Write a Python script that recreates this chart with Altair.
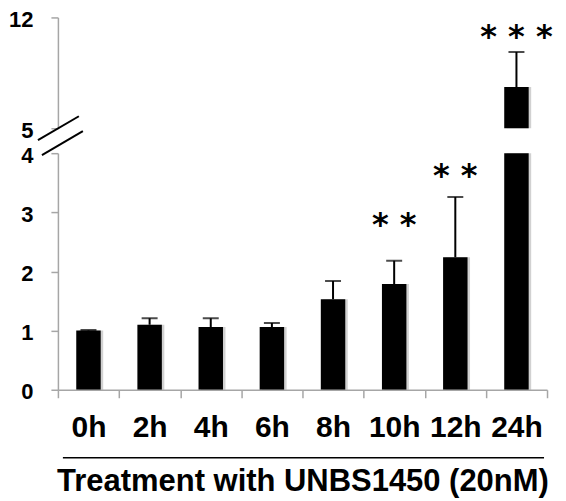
import altair as alt
import pandas as pd

categories = ["0h", "2h", "4h", "6h", "8h", "10h", "12h", "24h"]
means = [1.00, 1.10, 1.06, 1.06, 1.53, 1.79, 2.24, 7.61]
errors = [0.01, 0.11, 0.15, 0.07, 0.31, 0.39, 1.02, 2.21]
stars = ["", "", "", "", "", "* *", "* *", "* * *"]
star_y = [None, None, None, None, None, 2.79, 3.615, 10.78]

df = pd.DataFrame({
    "cat": categories,
    "mean": means,
    "top": [m + e for m, e in zip(means, errors)],
    "zero": [0.0] * len(categories),
    "star": stars,
    "star_y": star_y,
})

FONT = "Liberation Sans, Arial"
W = 490
H_UP = 111
H_LO = 237
GRAY = "#a6a6a6"


def panel(domain, yvalues, xaxis, star_filter):
    base = alt.Chart(df)
    x = alt.X("cat:N", sort=categories,
              scale=alt.Scale(paddingInner=0, paddingOuter=0), axis=xaxis, title="Treatment with UNBS1450 (20nM)")
    ysc = alt.Scale(domain=domain, nice=False, zero=False)
    yaxis = alt.Axis(values=yvalues, title=None, grid=False, labelFontSize=22, labelFontWeight="bold",
                     labelFont=FONT, labelColor="black", labelPadding=18, tickSize=7, labelOffset=2,
                     domainColor=GRAY, tickColor=GRAY, domainWidth=1.5, tickWidth=1.5, format="d")
    shadow = base.mark_bar(color="black", opacity=0.18, clip=True, xOffset=2.5,
                           width=alt.RelativeBandSize(0.4)).encode(
        x=x, y=alt.Y("mean:Q", scale=ysc, axis=yaxis), y2="zero:Q")
    bars = base.mark_bar(color="black", clip=True, width=alt.RelativeBandSize(0.4)).encode(
        x=x, y=alt.Y("mean:Q", scale=ysc, axis=yaxis), y2="zero:Q")
    err = base.mark_rule(color="black", strokeWidth=2, clip=True).encode(
        x=x, y=alt.Y("mean:Q", scale=ysc), y2="top:Q")
    cap = base.mark_tick(color="black", size=16, thickness=2, clip=True).encode(
        x=x, y=alt.Y("top:Q", scale=ysc))
    txt = base.transform_filter(star_filter).mark_text(
        font="DejaVu Sans", fontSize=32, fontWeight="bold", color="black", baseline="middle").encode(
        x=x, y=alt.Y("star_y:Q", scale=ysc), text="star:N")
    return [shadow, bars, err, cap, txt]


upper = alt.layer(*panel([5, 12], [5, 12], None, "datum.star_y >= 5")).properties(width=W, height=H_UP)

xaxis = alt.Axis(labelAngle=0, labelFontSize=30, labelFontWeight="bold", labelFont=FONT, labelColor="black",
                 tickBand="extent", tickSize=8, tickColor=GRAY, domainColor=GRAY, domainWidth=1.5, tickWidth=1.5,
                 labelPadding=15, titleFontSize=31, titleFont=FONT, titleFontWeight="bold", titleColor="black",
                 titlePadding=24)

one = pd.DataFrame({"k": [0]})
deco = [
    alt.Chart(one).mark_rule(color="black", strokeWidth=2).encode(
        x=alt.value(-20), x2=alt.value(21), y=alt.value(-13), y2=alt.value(-37)),
    alt.Chart(one).mark_rule(color="black", strokeWidth=2).encode(
        x=alt.value(-16), x2=alt.value(25), y=alt.value(2), y2=alt.value(-22)),
    alt.Chart(one).mark_rule(color="black", strokeWidth=1.5).encode(
        x=alt.value(5), x2=alt.value(487), y=alt.value(H_LO + 68)),
]
lower = alt.layer(*panel([0, 4], [0, 1, 2, 3, 4], xaxis, "datum.star_y != null && datum.star_y < 5"),
                  *deco).properties(width=W, height=H_LO)

chart = alt.vconcat(upper, lower, spacing=25, bounds="flush").properties(
    padding={"left": 0, "top": 0, "right": 5, "bottom": 5}
).configure_view(stroke=None)

chart.save("out.html", embed_options={"renderer": "svg", "actions": False})
